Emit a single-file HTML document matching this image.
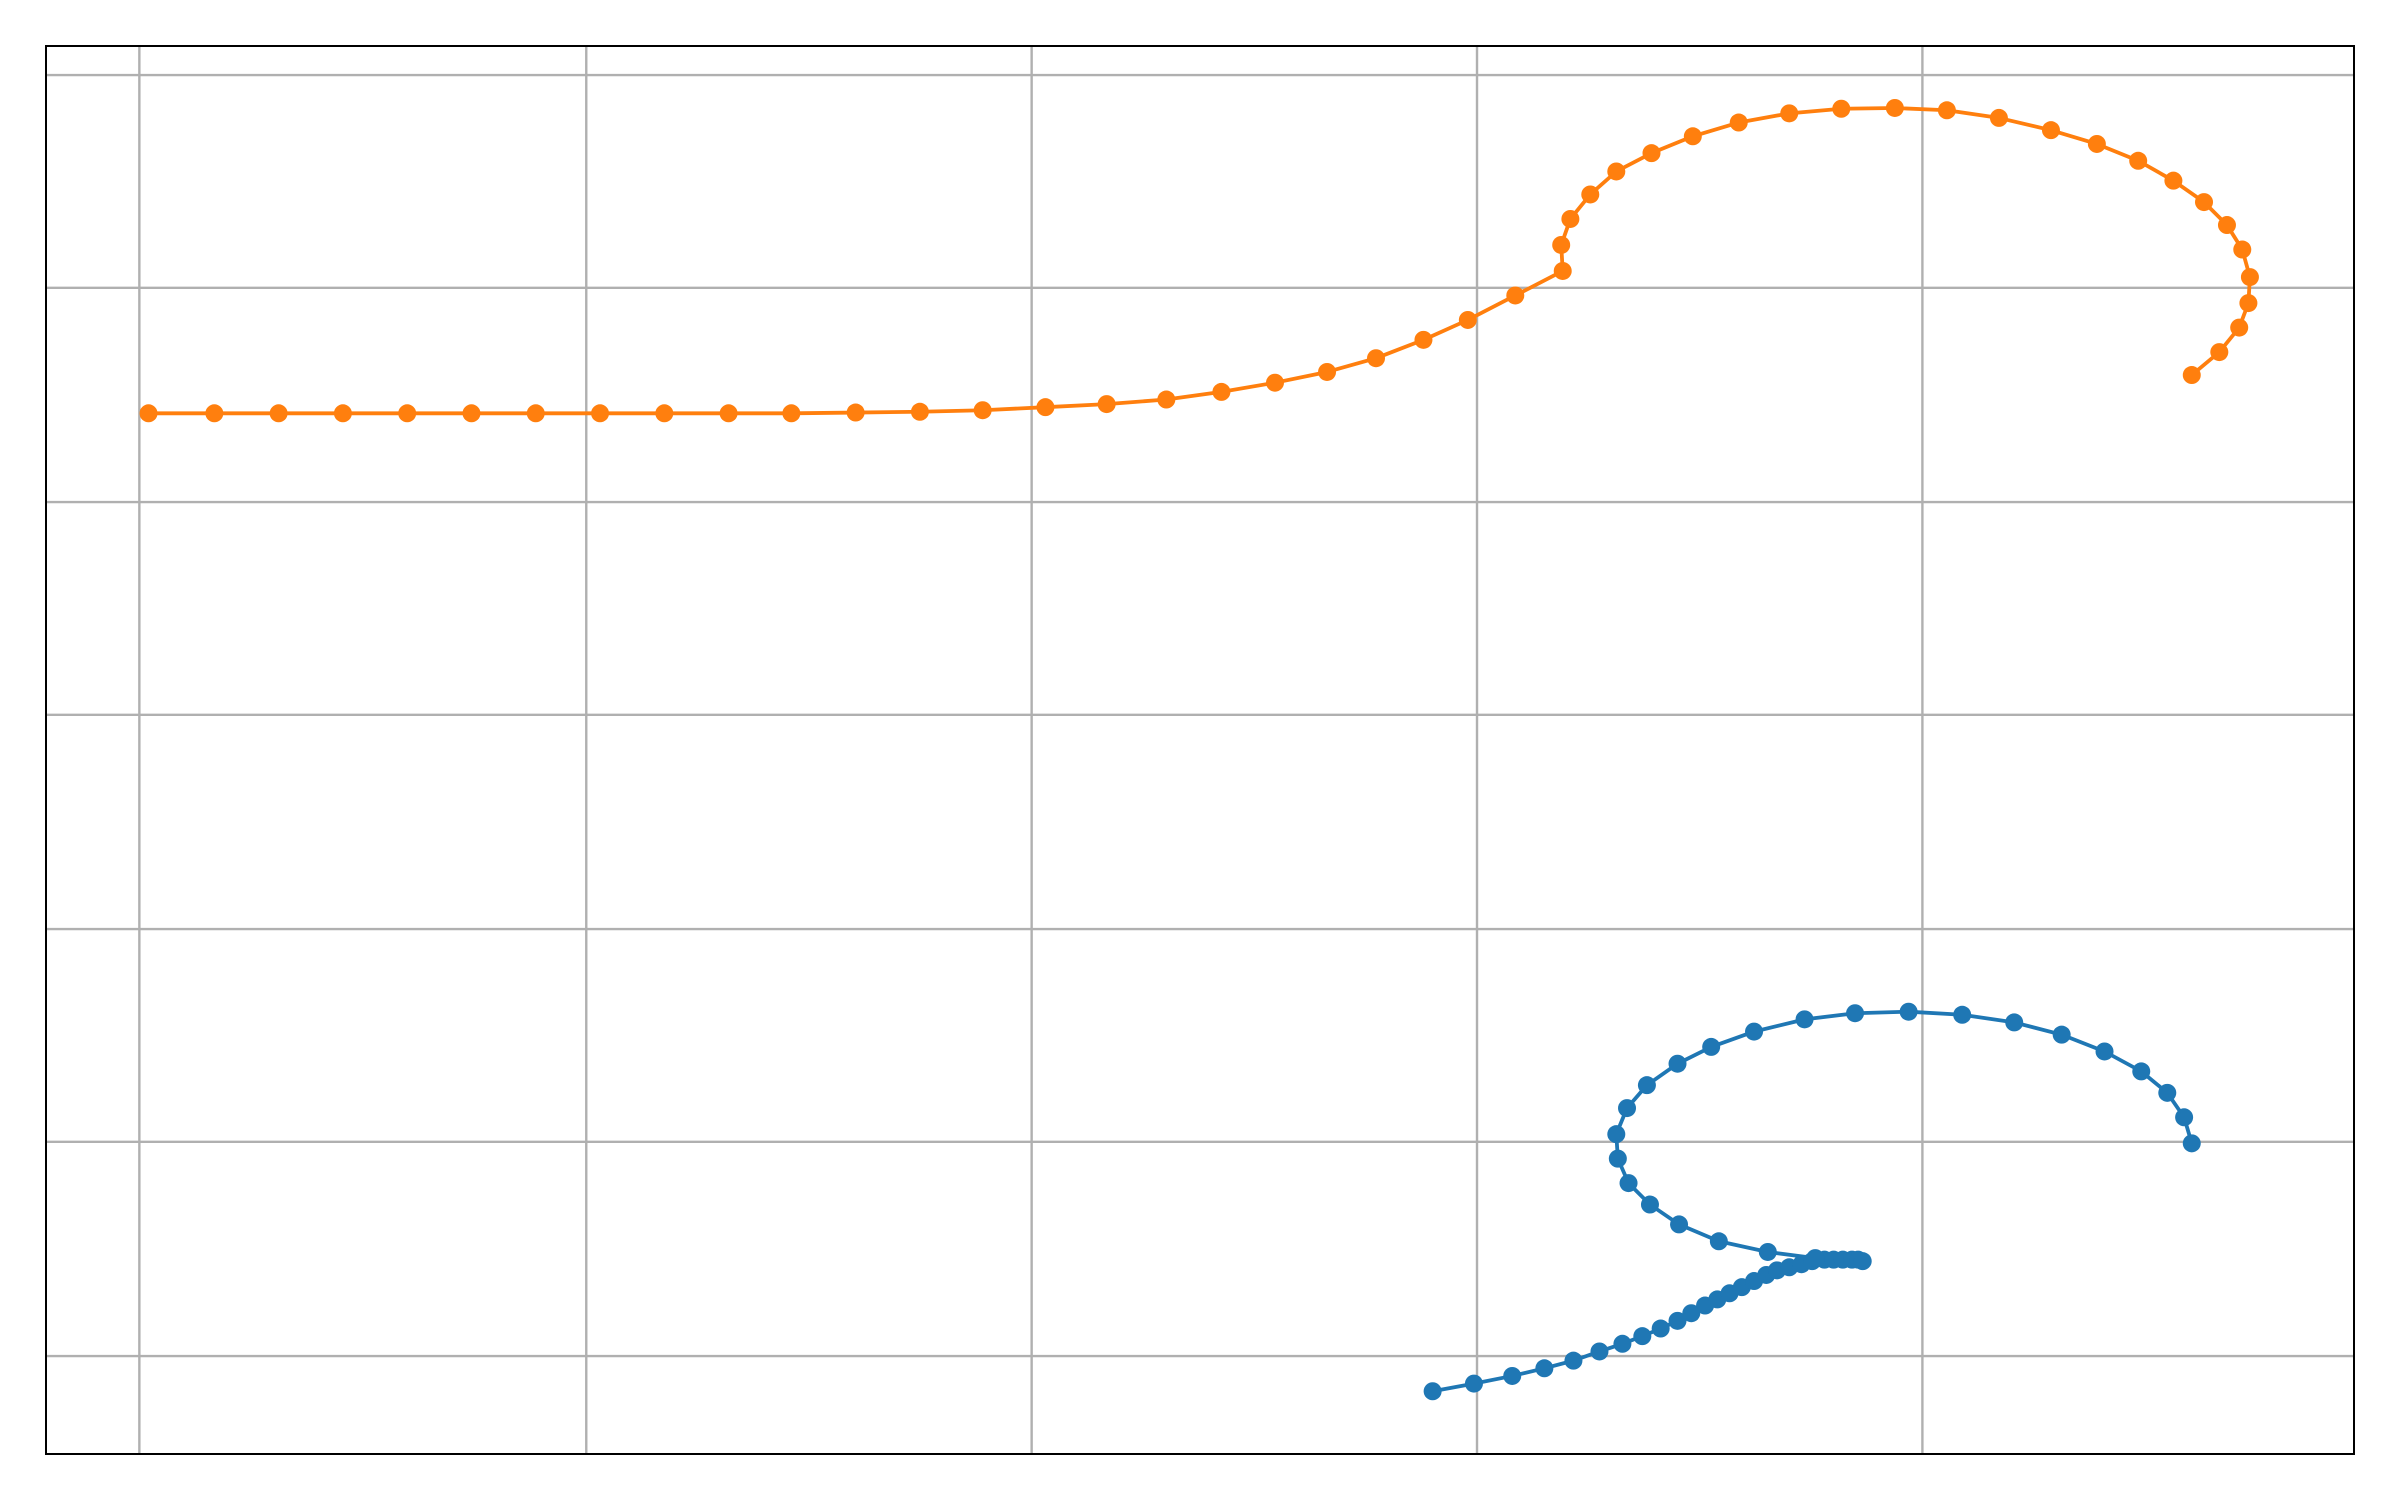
<!DOCTYPE html>
<html><head><meta charset="utf-8"><style>
html,body{margin:0;padding:0;background:#fff;width:2400px;height:1500px;overflow:hidden}
</style></head><body>
<svg id="chart" width="2400" height="1500" xmlns="http://www.w3.org/2000/svg"></svg>
<script>
const orangeX=[97,140,182,224,266,308,350,392,434,476,517,559,601,642,683,723,762,798,833,867,899,930,959,990,1021,1020,1026,1039,1056,1079,1106,1136,1169,1203,1238,1272,1306,1340,1370,1397,1420,1440,1455,1465,1470,1469,1463,1450,1432];
const orangeY=[270,270,270,270,270,270,270,270,270,270,270,269.5,269,268,266,264,261,256,250,243,234,222,209,193,177,160,143,127,112,100,89,80,74,71,70.5,72,77,85,94,105,118,132,147,163,181,198,214,230,245];
const blueX=[936,963,988,1009,1028,1045,1060,1073,1085,1096,1105,1114,1122,1130,1138,1146,1154,1161,1169,1177,1184,1192,1198,1204,1210,1214,1217,1186,1155,1123,1097,1078,1064,1057,1056,1063,1076,1096,1118,1146,1179,1212,1247,1282,1316,1347,1375,1399,1416,1427,1432];
const blueY=[909,904,899,894,889,883,878,873,868,863,858,853,849,845,841,837,833,830,828,826,824,823,823,823,823,823,824,822,818,811,800,787,773,757,741,724,709,695,684,674,666,662,661,663,668,676,687,700,714,730,747];
const xGrid=[91,383,674,965,1256];
const yGrid=[49,188,328,467,607,746,886];

const L=46,R=2354,T=46,B=1454;
const x0=30,x1=1538,y0=30,y1=950;
const sx=v=>L+(v-x0)*(R-L)/(x1-x0);
const sy=v=>T+(v-y0)*(B-T)/(y1-y0);
const svg=document.getElementById('chart');
const NS='http://www.w3.org/2000/svg';
function mk(tag,attrs){const e=document.createElementNS(NS,tag);for(const k in attrs)e.setAttribute(k,attrs[k]);svg.appendChild(e);return e;}

xGrid.forEach(g=>{
  const e=mk('line',{x1:sx(g),x2:sx(g),y1:T,y2:B,stroke:'#b0b0b0','stroke-width':2.4});
  
  
});
yGrid.forEach(g=>{
  const e=mk('line',{x1:L,x2:R,y1:sy(g),y2:sy(g),stroke:'#b0b0b0','stroke-width':2.4});
  
  
});

function series(xs,ys,color,name){
  const p=mk('polyline',{points:xs.map((v,i)=>sx(v)+','+sy(ys[i])).join(' '),fill:'none',stroke:color,'stroke-width':3.8,'stroke-linejoin':'round'});
  
  
  xs.forEach((v,i)=>{
    const c=mk('circle',{cx:sx(v),cy:sy(ys[i]),r:9,fill:color});
    
    
  });
}
series(orangeX,orangeY,'#ff7f0e','orange-series');
series(blueX,blueY,'#1f77b4','blue-series');

const f=mk('rect',{x:L,y:T,width:R-L,height:B-T,fill:'none',stroke:'#000','stroke-width':2});


</script>
</body></html>
